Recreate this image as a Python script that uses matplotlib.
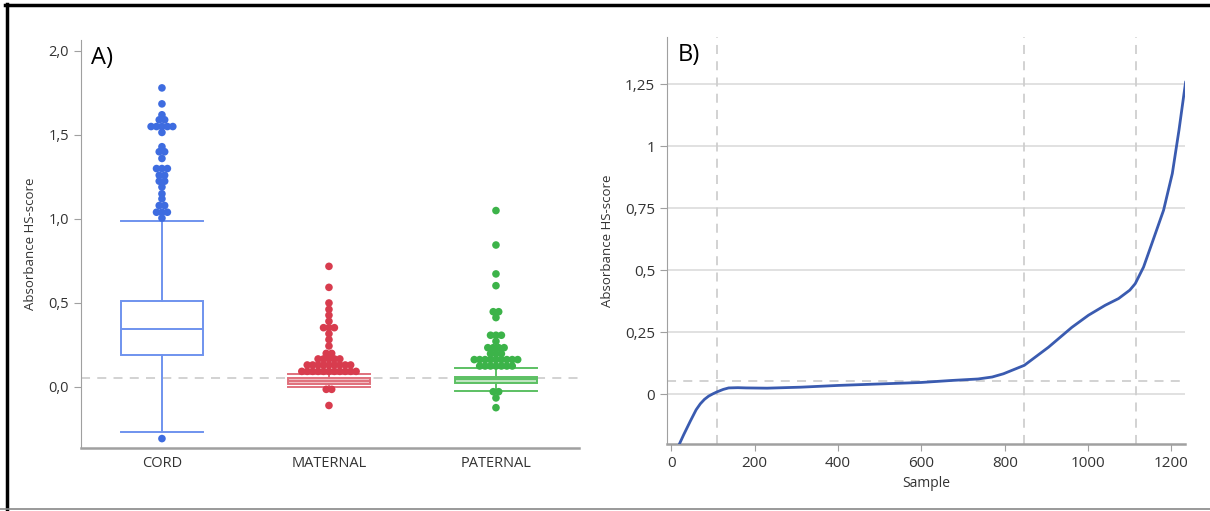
import numpy as np
import matplotlib
matplotlib.use("Agg")
import matplotlib.pyplot as plt
from matplotlib.lines import Line2D
from matplotlib.ticker import FuncFormatter
from collections import Counter

plt.rcParams['font.family'] = ['Open Sans', 'DejaVu Sans']

# ---------------- data ----------------
groups = ["CORD", "MATERNAL", "PATERNAL"]

# box statistics: q1, median, q3, lower whisker, upper whisker
cord_box = [0.19, 0.344, 0.51, -0.267, 0.99]
maternal_box = [0.018, 0.035, 0.052, -0.002, 0.075]
paternal_box = [0.026, 0.045, 0.06, -0.022, 0.111]

cord_out = [1.78, 1.685, 1.62, 1.59, 1.59, 1.55, 1.55, 1.55, 1.55, 1.55, 1.515,
            1.43, 1.40, 1.40, 1.36, 1.30, 1.30, 1.30, 1.26, 1.26, 1.225, 1.225,
            1.19, 1.15, 1.12, 1.08, 1.08, 1.04, 1.04, 1.04, 1.005, -0.307]
maternal_out = [0.718, 0.593, 0.50, 0.462, 0.427, 0.391, 0.353, 0.353, 0.353,
                0.317, 0.282, 0.244, 0.20, 0.20] + [0.167] * 5 + [0.131] * 9 + \
               [0.093] * 11 + [-0.014, -0.014, -0.11]
paternal_out = [1.05, 0.845, 0.673, 0.603, 0.448, 0.448, 0.413, 0.308, 0.308,
                0.308, 0.272, 0.234, 0.234, 0.234, 0.234, 0.198, 0.198, 0.198] + \
               [0.163] * 9 + [0.125] * 7 + [-0.028, -0.028, -0.065, -0.123]

cutoff = 0.055

sample_x = [19, 30, 46, 60, 70, 80, 90, 100, 110, 125, 138, 160, 180, 230, 311,
            400, 500, 600, 672, 736, 770, 797, 847, 905, 961, 1001, 1041, 1073,
            1100, 1113, 1133, 1153, 1181, 1202, 1218, 1234]
hs_score = [-0.203, -0.163, -0.108, -0.062, -0.038, -0.02, -0.007, 0.002, 0.01,
            0.02, 0.026, 0.027, 0.026, 0.025, 0.029, 0.036, 0.042, 0.048, 0.056,
            0.062, 0.07, 0.083, 0.117, 0.19, 0.27, 0.319, 0.359, 0.386, 0.42,
            0.446, 0.513, 0.608, 0.742, 0.89, 1.065, 1.26]
vlines_x = [111, 846, 1116]

# ---------------- style ----------------
dot_colors = ["#3e6ce0", "#d83c4e", "#3cb349"]
edge_colors = ["#6f93ee", "#e0707c", "#5cc063"]
face_colors = ["none", "#f2bcc2", "#bfe5c0"]
axis_grey = "#a0a0a0"
text_col = "#333333"
dash_col = "#cfcfcf"

fig = plt.figure(figsize=(12.1, 5.11), dpi=100)

# frame around the figure
fig.add_artist(Line2D([0.004, 1.0], [0.990, 0.990], color="black", lw=2.5,
                      transform=fig.transFigure))
fig.add_artist(Line2D([0.0055, 0.0055], [0.0, 0.992], color="black", lw=2.5,
                      transform=fig.transFigure))
fig.add_artist(Line2D([0.0, 1.0], [0.004, 0.004], color="#888888", lw=1.2,
                      transform=fig.transFigure))

# ---------------- panel A ----------------
axA = fig.add_axes([0.0669, 0.1233, 0.412, 0.7984])
stats = []
for name, b in zip(groups, [cord_box, maternal_box, paternal_box]):
    stats.append(dict(label=name, q1=b[0], med=b[1], q3=b[2], whislo=b[3], whishi=b[4], fliers=[]))

for i, st in enumerate(stats):
    axA.bxp([st], positions=[i], widths=0.49, capwidths=0.49, patch_artist=True,
            showfliers=False,
            boxprops=dict(facecolor=face_colors[i], edgecolor=edge_colors[i], lw=1.4),
            medianprops=dict(color=edge_colors[i], lw=1.4),
            whiskerprops=dict(color=edge_colors[i], lw=1.4),
            capprops=dict(color=edge_colors[i], lw=1.4), zorder=2)

dx = 0.0325
for i, vals in enumerate([cord_out, maternal_out, paternal_out]):
    cnt = Counter(vals)
    xs, ys = [], []
    for v, n in cnt.items():
        offs = (np.arange(n) - (n - 1) / 2) * dx
        xs.extend(i + offs)
        ys.extend([v] * n)
    axA.scatter(xs, ys, s=30, color=dot_colors[i], edgecolors="none", zorder=3)

axA.axhline(cutoff, color=dash_col, lw=1.3, ls=(0, (5, 4)), zorder=1)

axA.set_xlim(-0.485, 2.5)
axA.set_ylim(-0.363, 2.065)
axA.set_xticks(range(3))
axA.set_xticklabels(groups)
axA.set_yticks([0.0, 0.5, 1.0, 1.5, 2.0])
axA.yaxis.set_major_formatter(FuncFormatter(lambda v, p: f"{v:.1f}".replace(".", ",")))
axA.tick_params(axis="x", length=0, labelsize=10.5, colors=text_col, pad=6)
axA.tick_params(axis="y", length=5, color=axis_grey, labelsize=10.5, labelcolor=text_col)
for s in ["top", "right"]:
    axA.spines[s].set_visible(False)
for s in ["left", "bottom"]:
    axA.spines[s].set_color(axis_grey)
axA.spines["bottom"].set_linewidth(1.8)
axA.set_ylabel("Absorbance HS-score", fontsize=9.5, color=text_col, labelpad=8)
axA.text(0.02, 0.985, "A)", transform=axA.transAxes, fontsize=17, va="top", ha="left",
         color="black")

# ---------------- panel B ----------------
axB = fig.add_axes([0.5512, 0.1311, 0.428, 0.7965])
axB.plot(sample_x, hs_score, color="#3a5bb0", lw=2, zorder=3, solid_capstyle="round",
         solid_joinstyle="round")
axB.axhline(cutoff, color=dash_col, lw=1.3, ls=(0, (5, 4)), zorder=2)
for vx in vlines_x:
    axB.axvline(vx, color=dash_col, lw=1.3, ls=(0, (5, 4)), zorder=2)

axB.set_xlim(-10, 1232)
axB.set_ylim(-0.2, 1.44)
axB.set_xticks([0, 200, 400, 600, 800, 1000, 1200])
axB.set_yticks([0, 0.25, 0.5, 0.75, 1.0, 1.25])

def fmtB(v, p):
    s = f"{v:.2f}".rstrip("0").rstrip(".")
    return s.replace(".", ",")

axB.yaxis.set_major_formatter(FuncFormatter(fmtB))
axB.grid(axis="y", color="#dcdcdc", lw=1.2, zorder=1)
axB.set_axisbelow(True)
axB.tick_params(axis="both", length=5, color=axis_grey, labelsize=11, labelcolor=text_col)
for s in ["top", "right"]:
    axB.spines[s].set_visible(False)
for s in ["left", "bottom"]:
    axB.spines[s].set_color(axis_grey)
axB.spines["bottom"].set_linewidth(1.8)
axB.set_ylabel("Absorbance HS-score", fontsize=9.5, color=text_col, labelpad=8)
axB.set_xlabel("Sample", fontsize=10, color=text_col, labelpad=4)
axB.text(0.02, 0.985, "B)", transform=axB.transAxes, fontsize=17, va="top", ha="left",
         color="black")

fig.savefig("out.png", dpi=100)
